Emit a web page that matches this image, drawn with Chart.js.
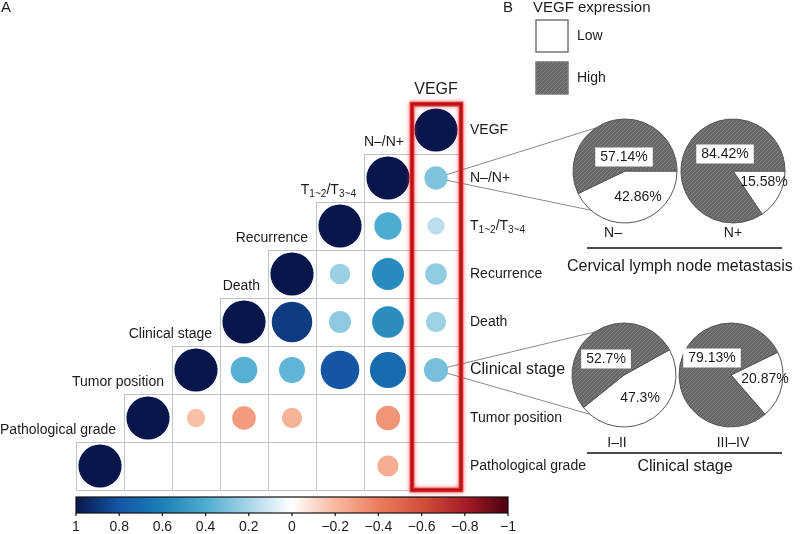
<!DOCTYPE html>
<html><head><meta charset="utf-8">
<script src="https://cdn.jsdelivr.net/npm/chart.js@4.4.1/dist/chart.umd.min.js"></script>
<style>
html,body{margin:0;padding:0;background:#fff;overflow:hidden;width:800px;height:534px}
#wrap{position:relative;width:800px;height:534px;overflow:hidden}
canvas{position:absolute}
</style></head><body><div id="wrap">
<canvas id="main" width="800" height="534" style="left:0;top:0"></canvas>
<canvas id="cbar" width="472" height="44" style="left:56px;top:490px"></canvas>
<canvas id="pie0" width="150" height="150"></canvas>
<canvas id="pie1" width="150" height="150"></canvas>
<canvas id="pie2" width="150" height="150"></canvas>
<canvas id="pie3" width="150" height="150"></canvas>
</div>
<script>
// ---------- DATA ----------
const variables = ['VEGF', 'N–/N+', 'T1~2/T3~4', 'Recurrence', 'Death', 'Clinical stage', 'Tumor position', 'Pathological grade'];
// correlation of each row variable with variables 0..row (null = blank)
const corrVEGF        = [1];
const corrN           = [0.29, 1];
const corrT           = [0.16, 0.40, 1];
const corrRecurrence  = [0.25, 0.55, 0.23, 1];
const corrDeath       = [0.22, 0.54, 0.26, 0.88, 1];
const corrClinical    = [0.31, 0.70, 0.80, 0.36, 0.38, 1];
const corrTumor       = [null, -0.32, null, -0.22, -0.30, -0.18, 1];
const corrPathology   = [null, -0.24, null, null, null, null, null, 1];
const corrRows = [corrVEGF, corrN, corrT, corrRecurrence, corrDeath, corrClinical, corrTumor, corrPathology];

const colorbarTicks = [1, 0.8, 0.6, 0.4, 0.2, 0, -0.2, -0.4, -0.6, -0.8, -1];

const expressionLevels = ['Low', 'High'];
const lymphCategories = ['N–', 'N+'];
const lymphLow  = [42.86, 15.58];
const lymphHigh = [57.14, 84.42];
const stageCategories = ['I–II', 'III–IV'];
const stageLow  = [47.3, 20.87];
const stageHigh = [52.7, 79.13];

// ---------- STYLE / LAYOUT ----------
const FONT = '"Liberation Sans", Arial, Helvetica, sans-serif';
const TXT = '#1b1b1b';
const MAX_R = 21.6;
const palette = [
  [-1, [74, 0, 16]], [-0.8, [168, 28, 38]], [-0.6, [210, 80, 58]], [-0.4, [236, 125, 95]],
  [-0.2, [248, 185, 158]], [0, [255, 255, 255]], [0.2, [169, 214, 232]], [0.4, [78, 172, 208]],
  [0.6, [28, 128, 182]], [0.8, [20, 86, 164]], [1, [8, 22, 76]]
];
function corrColor(v) {
  for (let i = 0; i < palette.length - 1; i++) {
    const [a, ca] = palette[i], [b, cb] = palette[i + 1];
    if (v >= a && v <= b) {
      const t = (v - a) / (b - a);
      const c = ca.map((x, j) => Math.round(x + (cb[j] - x) * t));
      return `rgb(${c[0]},${c[1]},${c[2]})`;
    }
  }
  return '#fff';
}
function hatch() {
  const c = document.createElement('canvas'); c.width = 4; c.height = 4;
  const g = c.getContext('2d');
  g.fillStyle = '#676767'; g.fillRect(0, 0, 4, 4);
  g.strokeStyle = '#828282'; g.lineWidth = 1;
  g.beginPath(); g.moveTo(0, 4); g.lineTo(4, 0); g.moveTo(-1, 1); g.lineTo(1, -1); g.moveTo(3, 5); g.lineTo(5, 3); g.stroke();
  return g.createPattern(c, 'repeat');
}
const HATCH = hatch();

const pieLayout = [
  { cx: 625, cy: 171, rot: 90, cap: 613, capY: 233, low: [13, 26], high: [-1, -14] },
  { cx: 733, cy: 171, rot: 90, cap: 733, capY: 233, low: [31, 11], high: [-8, -17] },
  { cx: 624, cy: 375, rot: 61, cap: 617, capY: 443, low: [16, 23], high: [-18, -16] },
  { cx: 731, cy: 375, rot: 64, cap: 733, capY: 443, low: [34, 4], high: [-19, -17] }
];
const PIE_R = 52;

function text(ctx, s, x, y, size, align) {
  ctx.font = size + 'px ' + FONT; ctx.fillStyle = TXT;
  ctx.textAlign = align || 'left'; ctx.textBaseline = 'middle';
  ctx.fillText(s, x, y);
}
function label(ctx, s, x, y, size, align) {
  const m = s.match(/^T(.+)\/T(.+)$/);
  if (!m) { text(ctx, s, x, y, size, align); return; }
  const sub = size * 0.72;
  const parts = [['T', size, 0], [m[1], sub, size * 0.3], ['/T', size, 0], [m[2], sub, size * 0.3]];
  let w = 0;
  parts.forEach(p => { ctx.font = p[1] + 'px ' + FONT; w += ctx.measureText(p[0]).width; });
  let cx = align === 'right' ? x - w : x;
  parts.forEach(p => {
    ctx.font = p[1] + 'px ' + FONT; ctx.fillStyle = TXT; ctx.textAlign = 'left'; ctx.textBaseline = 'middle';
    ctx.fillText(p[0], cx, y + p[2]); cx += ctx.measureText(p[0]).width;
  });
}

// ---------- MATRIX (bubble chart) ----------
const n = variables.length;
const points = [];
corrRows.forEach((row, r) => row.forEach((v, k) => {
  if (v !== null) points.push({ x: n - 1 - k + 0.5, y: r + 0.5, r: MAX_R * Math.sqrt(Math.abs(v)), v: v });
}));

const matrixPlugin = {
  id: 'matrix',
  beforeDatasetsDraw(chart) {
    const ctx = chart.ctx, xs = chart.scales.x, ys = chart.scales.y;
    ctx.save();
    ctx.strokeStyle = '#c4c4c4'; ctx.lineWidth = 1;
    for (let r = 0; r < n; r++) for (let k = 0; k <= r; k++) {
      const col = n - 1 - k;
      const x0 = Math.round(xs.getPixelForValue(col)), x1 = Math.round(xs.getPixelForValue(col + 1));
      const y0 = Math.round(ys.getPixelForValue(r)), y1 = Math.round(ys.getPixelForValue(r + 1));
      ctx.strokeRect(x0 + 0.5, y0 + 0.5, x1 - x0, y1 - y0);
    }
    // connectors from VEGF column to pies
    ctx.strokeStyle = '#8a8a8a'; ctx.lineWidth = 1;
    [[1, pieLayout[0]], [5, pieLayout[2]]].forEach(([r, p]) => {
      const bx = xs.getPixelForValue(n - 0.5), by = ys.getPixelForValue(r + 0.5);
      [-124, 131].forEach(a => {
        const rad = a * Math.PI / 180;
        ctx.beginPath(); ctx.moveTo(bx, by);
        ctx.lineTo(p.cx + PIE_R * Math.cos(rad), p.cy + PIE_R * Math.sin(rad)); ctx.stroke();
      });
    });
    ctx.restore();
  },
  afterDatasetsDraw(chart) {
    const ctx = chart.ctx, xs = chart.scales.x, ys = chart.scales.y;
    ctx.save();
    // red highlight box around VEGF column
    const bx0 = xs.getPixelForValue(n - 1), bx1 = xs.getPixelForValue(n);
    const by0 = ys.getPixelForValue(0), by1 = ys.getPixelForValue(n);
    ctx.shadowColor = 'rgba(255,40,40,0.75)'; ctx.shadowBlur = 4;
    ctx.strokeStyle = '#e2282e'; ctx.lineWidth = 4.5;
    ctx.strokeRect(bx0, by0 - 2, bx1 - bx0 + 1, by1 - by0 + 2);
    ctx.shadowBlur = 0;
    ctx.strokeStyle = '#8e0c0c'; ctx.lineWidth = 1.2;
    ctx.strokeRect(bx0, by0 - 2, bx1 - bx0 + 1, by1 - by0 + 2);
    // row labels (right)
    variables.forEach((s, r) => {
      label(ctx, s, xs.right + 10, ys.getPixelForValue(r + 0.5), r === 5 ? 16 : 14, 'left');
    });
    // column labels (on diagonal)
    variables.forEach((s, k) => {
      const col = n - 1 - k;
      const cx = xs.getPixelForValue(col + 0.5);
      const top = ys.getPixelForValue(k);
      if (k === 0) label(ctx, s, cx, top - 16, 16, 'center');
      else label(ctx, s, cx + 16, top - 12, 14, 'right');
    });
    ctx.restore();
  },
  afterDraw(chart) {
    const ctx = chart.ctx;
    ctx.save();
    text(ctx, 'A', 1, 8, 15);
    text(ctx, 'B', 503, 8, 15);
    text(ctx, 'VEGF expression', 533, 8, 15);
    ctx.lineWidth = 1.5; ctx.strokeStyle = '#777';
    ctx.fillStyle = '#fff'; ctx.fillRect(536, 20, 32, 32); ctx.strokeRect(536, 20, 32, 32);
    ctx.fillStyle = HATCH; ctx.fillRect(536, 62, 32, 32); ctx.strokeRect(536, 62, 32, 32);
    text(ctx, expressionLevels[0], 577, 36, 14);
    text(ctx, expressionLevels[1], 577, 78, 14);
    // captions
    text(ctx, lymphCategories[0], pieLayout[0].cap, pieLayout[0].capY, 14, 'center');
    text(ctx, lymphCategories[1], pieLayout[1].cap, pieLayout[1].capY, 14, 'center');
    text(ctx, stageCategories[0], pieLayout[2].cap, pieLayout[2].capY, 14, 'center');
    text(ctx, stageCategories[1], pieLayout[3].cap, pieLayout[3].capY, 14, 'center');
    ctx.strokeStyle = '#111'; ctx.lineWidth = 1.5;
    ctx.beginPath(); ctx.moveTo(587, 248); ctx.lineTo(782, 248); ctx.moveTo(587, 453); ctx.lineTo(782, 453); ctx.stroke();
    text(ctx, 'Cervical lymph node metastasis', 567, 267, 16, 'left');
    text(ctx, 'Clinical stage', 685, 467, 16, 'center');
    ctx.restore();
  }
};

new Chart(document.getElementById('main'), {
  type: 'bubble',
  data: { datasets: [{
    data: points, clip: false, borderWidth: 0, hoverBorderWidth: 0,
    backgroundColor: c => corrColor(c.raw && c.raw.v !== undefined ? c.raw.v : 0)
  }] },
  options: {
    responsive: false, animation: false, events: [],
    layout: { padding: { left: 76, right: 340, top: 106, bottom: 44 }, autoPadding: false },
    scales: {
      x: { type: 'linear', min: 0, max: 8, display: false },
      y: { type: 'linear', min: 0, max: 8, reverse: true, display: false }
    },
    plugins: { legend: { display: false }, tooltip: { enabled: false } }
  },
  plugins: [matrixPlugin]
});

// ---------- COLOR BAR ----------
const colorbarPlugin = {
  id: 'colorbar',
  afterDraw(chart) {
    const ctx = chart.ctx, xs = chart.scales.x, a = chart.chartArea;
    ctx.save();
    const g = ctx.createLinearGradient(a.left, 0, a.right, 0);
    palette.forEach(([v, c]) => {
      const t = (xs.getPixelForValue(v) - a.left) / (a.right - a.left);
      g.addColorStop(Math.min(1, Math.max(0, t)), `rgb(${c[0]},${c[1]},${c[2]})`);
    });
    ctx.fillStyle = g; ctx.fillRect(a.left, a.top, a.right - a.left, a.bottom - a.top);
    ctx.strokeStyle = '#111'; ctx.lineWidth = 1.2;
    ctx.strokeRect(a.left, a.top, a.right - a.left, a.bottom - a.top);
    colorbarTicks.forEach(v => {
      const x = xs.getPixelForValue(v);
      ctx.beginPath(); ctx.moveTo(x, a.bottom); ctx.lineTo(x, a.bottom + 3); ctx.stroke();
      const s = v < 0 ? '−' + Math.abs(v) : String(v);
      text(ctx, s, x, a.bottom + 14, 14, 'center');
    });
    ctx.restore();
  }
};
new Chart(document.getElementById('cbar'), {
  type: 'scatter',
  data: { datasets: [{ data: [] }] },
  options: {
    responsive: false, animation: false, events: [],
    layout: { padding: { left: 20, right: 20, top: 7, bottom: 21 }, autoPadding: false },
    scales: {
      x: { type: 'linear', min: -1, max: 1, reverse: true, display: false },
      y: { min: 0, max: 1, display: false }
    },
    plugins: { legend: { display: false }, tooltip: { enabled: false } }
  },
  plugins: [colorbarPlugin]
});

// ---------- PIES ----------
const pieLabelPlugin = {
  id: 'pieLabels',
  afterDatasetsDraw(chart, args, opts) {
    const ctx = chart.ctx;
    const arc = chart.getDatasetMeta(0).data[0];
    const vals = chart.data.datasets[0].data;
    ctx.save();
    [opts.low, opts.high].forEach((o, i) => {
      const s = vals[i] + '%';
      const x = arc.x + o[0], y = arc.y + o[1];
      ctx.font = '14px ' + FONT;
      if (i === 1) {
        const w = ctx.measureText(s).width + 10;
        ctx.fillStyle = '#fff'; ctx.fillRect(x - w / 2, y - 9.5, w, 19);
      }
      text(ctx, s, x, y, 14, 'center');
    });
    ctx.restore();
  }
};
const pieData = [
  [lymphLow[0], lymphHigh[0]], [lymphLow[1], lymphHigh[1]],
  [stageLow[0], stageHigh[0]], [stageLow[1], stageHigh[1]]
];
pieData.forEach((d, i) => {
  const L = pieLayout[i];
  const el = document.getElementById('pie' + i);
  el.style.left = (L.cx - 75) + 'px'; el.style.top = (L.cy - 75) + 'px';
  new Chart(el, {
    type: 'pie',
    data: { labels: expressionLevels, datasets: [{
      data: d, backgroundColor: ['#ffffff', HATCH], borderColor: '#555', borderWidth: 1
    }] },
    options: {
      responsive: false, animation: false, events: [], radius: PIE_R, rotation: L.rot,
      layout: { padding: 0 },
      plugins: { legend: { display: false }, tooltip: { enabled: false }, pieLabels: { low: L.low, high: L.high } }
    },
    plugins: [pieLabelPlugin]
  });
});
</script>
</body></html>
